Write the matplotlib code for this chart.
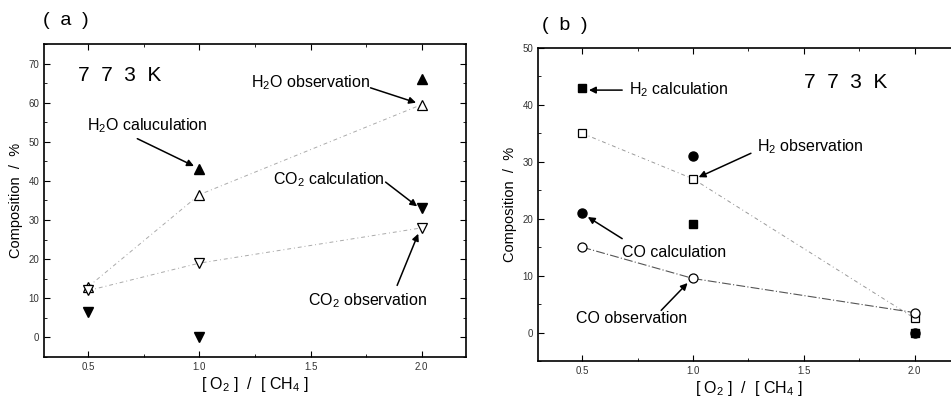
import matplotlib
matplotlib.use("Agg")
import matplotlib.pyplot as plt
from matplotlib.ticker import MultipleLocator

plt.rcParams["font.family"] = ["Liberation Sans", "DejaVu Sans"]
plt.rcParams["mathtext.fontset"] = "custom"
plt.rcParams["mathtext.rm"] = "Liberation Sans"
plt.rcParams["mathtext.it"] = "Liberation Sans"

# panel (a): H2O and CO2
x_a = [0.5, 1.0, 2.0]
h2o_calc_x = [1.0, 2.0]
h2o_calc = [43, 66]
h2o_obs = [13, 36.5, 59.5]
co2_calc = [6.5, 0, 33]
co2_obs = [12, 19, 28]

# panel (b): H2 and CO
x_b = [0.5, 1.0, 2.0]
h2_calc = [43, 19, 0]
co_calc = [21, 31, 0]
h2_obs = [35, 27, 2.5]
co_obs = [15, 9.5, 3.5]

LABEL_FS = 11.5


def style_axes(ax, ylim, ymajor, yminor):
    ax.set_xlim(0.3, 2.2)
    ax.set_ylim(*ylim)
    ax.set_xticks([0.5, 1.0, 1.5, 2.0])
    ax.set_xticklabels(["0.5", "1.0", "1.5", "2.0"])
    ax.xaxis.set_minor_locator(MultipleLocator(0.25))
    ax.yaxis.set_major_locator(MultipleLocator(ymajor))
    ax.yaxis.set_minor_locator(MultipleLocator(yminor))
    ax.tick_params(which="both", direction="in", top=True, right=True,
                   labelsize=7, labelcolor="#333333")
    ax.tick_params(which="major", length=4)
    ax.tick_params(which="minor", length=2)
    for s in ax.spines.values():
        s.set_linewidth(1.2)
    ax.set_xlabel(r"[ O$_2$ ]  /  [ CH$_4$ ]", fontsize=11.5, labelpad=2)
    ax.set_ylabel("Composition  /  %", fontsize=10.5, labelpad=4)


def arrow(ax, tail, head):
    ax.annotate("", xy=head, xytext=tail,
                arrowprops=dict(arrowstyle="-|>", color="black", lw=1.1,
                                mutation_scale=10, shrinkA=0, shrinkB=0))


fig = plt.figure(figsize=(9.51, 4.05), dpi=100)
ax1 = fig.add_axes([0.0463, 0.1185, 0.4437, 0.7729])
ax2 = fig.add_axes([0.5657, 0.1086, 0.4427, 0.7729])

# (a)
ax1.plot(x_a, h2o_obs, color="#aaaaaa", lw=0.7, ls=(0, (4, 3, 1, 3)), zorder=1)
ax1.plot(x_a, co2_obs, color="#aaaaaa", lw=0.7, ls=(0, (4, 3, 1, 3)), zorder=1)
ax1.plot(h2o_calc_x, h2o_calc, ls="none", marker="^", ms=7, color="black")
ax1.plot(x_a, co2_calc, ls="none", marker="v", ms=7, color="black")
ax1.plot(x_a, h2o_obs, ls="none", marker="^", ms=7, mfc="white", mec="black", mew=0.9)
ax1.plot(x_a, co2_obs, ls="none", marker="v", ms=7, mfc="white", mec="black", mew=0.9)
style_axes(ax1, (-5, 75), 10, 5)

ax1.text(0.455, 66.9, "7  7  3  K", fontsize=15, va="center", ha="left")
ax1.text(1.23, 65.1, r"H$_2$O observation", fontsize=LABEL_FS, va="center")
arrow(ax1, (1.77, 63.8), (1.975, 60.0))
ax1.text(0.495, 54.1, r"H$_2$O caluculation", fontsize=LABEL_FS, va="center")
arrow(ax1, (0.72, 50.8), (0.975, 43.8))
ax1.text(1.333, 40.3, r"CO$_2$ calculation", fontsize=LABEL_FS, va="center")
arrow(ax1, (1.838, 39.7), (1.98, 33.5))
ax1.text(1.49, 9.5, r"CO$_2$ observation", fontsize=LABEL_FS, va="center")
arrow(ax1, (1.89, 13.3), (1.985, 26.5))

# (b)
ax2.plot(x_b, h2_obs, color="#999999", lw=0.7, ls=(0, (4, 3, 1, 3)), zorder=1)
ax2.plot(x_b, co_obs, color="#555555", lw=0.8, ls=(0, (8, 2, 1, 2)), zorder=1)
ax2.plot(x_b, h2_calc, ls="none", marker="s", ms=6, color="black")
ax2.plot(x_b, co_calc, ls="none", marker="o", ms=6.5, color="black")
ax2.plot(x_b, h2_obs, ls="none", marker="s", ms=6, mfc="white", mec="black", mew=0.9)
ax2.plot(x_b, co_obs, ls="none", marker="o", ms=6.5, mfc="white", mec="black", mew=0.9)
style_axes(ax2, (-5, 50), 10, 5)

ax2.text(1.5, 44.0, "7  7  3  K", fontsize=15, va="center", ha="left")
ax2.text(0.712, 42.6, r"H$_2$ calculation", fontsize=LABEL_FS, va="center")
arrow(ax2, (0.68, 42.6), (0.53, 42.6))
ax2.text(1.288, 32.6, r"H$_2$ observation", fontsize=LABEL_FS, va="center")
arrow(ax2, (1.261, 31.5), (1.025, 27.3))
ax2.text(0.68, 14.1, "CO calculation", fontsize=LABEL_FS, va="center")
arrow(ax2, (0.68, 16.5), (0.525, 20.3))
ax2.text(0.473, 2.5, "CO observation", fontsize=LABEL_FS, va="center")
arrow(ax2, (0.856, 3.9), (0.975, 8.7))

fig.text(0.045, 0.95, "(  a  )", fontsize=14, va="center", ha="left")
fig.text(0.570, 0.938, "(  b  )", fontsize=14, va="center", ha="left")

fig.savefig("out.png", dpi=100)
